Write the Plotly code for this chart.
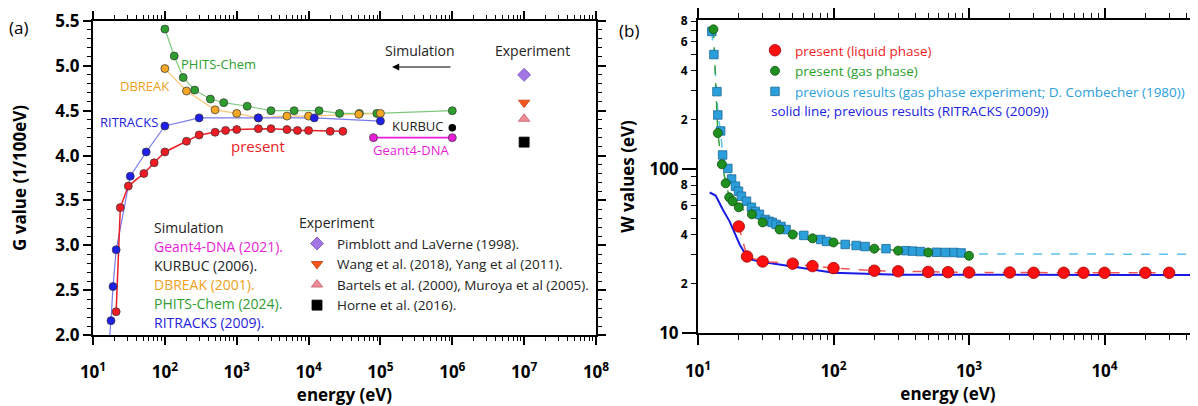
import plotly.graph_objects as go

# ---------------- Panel (a): G value vs energy ----------------
present_e = [21, 24, 31, 51, 71, 100, 200, 300, 500, 700, 1000, 2000, 3000, 5000, 7000, 10000, 20000, 30000]
present_g = [2.26, 3.42, 3.66, 3.80, 3.92, 4.04, 4.16, 4.23, 4.26, 4.28, 4.29, 4.30, 4.30, 4.29, 4.28, 4.28, 4.27, 4.27]

ritracks_e = [17.8, 19, 21, 33, 55, 100, 300, 2000, 12000, 100000]
ritracks_g = [2.16, 2.54, 2.95, 3.77, 4.04, 4.33, 4.42, 4.42, 4.42, 4.385]
ritracks_line_e = [16.5] + ritracks_e
ritracks_line_g = [1.85] + ritracks_g

dbreak_e = [100, 200, 500, 1000, 2000, 5000, 10000, 50000, 100000]
dbreak_g = [4.97, 4.72, 4.51, 4.47, 4.42, 4.44, 4.44, 4.46, 4.47]

phits_e = [100, 135, 180, 260, 430, 660, 1400, 3000, 6300, 14000, 27000, 51000, 89000, 1000000]
phits_g = [5.41, 5.11, 4.87, 4.73, 4.63, 4.59, 4.55, 4.50, 4.50, 4.50, 4.47, 4.47, 4.47, 4.50]

geant_e = [80000, 1000000]
geant_g = [4.20, 4.20]

kurbuc_e = [1000000]
kurbuc_g = [4.31]

exp_e = 1e7
exp_names = ["Pimblott and LaVerne (1998).", "Wang et al. (2018), Yang et al (2011).",
             "Bartels et al. (2000), Muroya et al (2005).", "Horne et al. (2016)."]
exp_g = [4.90, 4.59, 4.41, 4.15]

a_xticks = [10, 100, 1e3, 1e4, 1e5, 1e6, 1e7, 1e8]
a_xticktext = ["10<sup>%d</sup>" % i for i in range(1, 9)]

# ---------------- Panel (b): W values vs energy ----------------
liquid_e = [20, 23, 30, 50, 70, 100, 200, 300, 500, 700, 1000, 2000, 3000, 5000, 7000, 10000, 20000, 30000]
liquid_w = [44.7, 29.3, 27.3, 26.5, 25.6, 24.9, 24.0, 23.8, 23.6, 23.5, 23.4, 23.4, 23.3, 23.3, 23.3, 23.3, 23.3, 23.3]

gas_e = [13, 14, 15, 16, 17, 18, 20, 25, 30, 40, 50, 70, 100, 200, 300, 500, 1000]
gas_w = [713, 166, 107, 82, 67.3, 63.7, 58.5, 53, 47.3, 42.8, 39.9, 37.8, 35.7, 32.7, 31.8, 31.0, 29.6]

comb_e = [12.65, 13.1, 13.8, 14.0, 14.7, 15.2, 16.6, 17.7, 18.9, 19.9, 20.9, 22.8, 24.8, 26.5, 28.4,
          31.4, 33.5, 35.3, 37.7, 41, 44.7, 60.4, 80.4, 89, 122, 147, 171, 244, 341, 384, 438, 574,
          668, 776, 875]
comb_w = [692, 500, 297, 214, 171, 122, 101, 87, 78.7, 73.3, 68.3, 63.7, 58.5, 55.2, 53,
          49.3, 48, 47.3, 46, 44.7, 42.8, 39.4, 37.2, 36.2, 34.7, 34.2, 33.7, 32.7, 31.8, 31.6, 31.4, 31.1,
          31.0, 31.0, 30.8]
comb_ext_e = [875, 1000, 60000]
comb_ext_w = [30.8, 30.4, 30.2]

rit_w_e = [12.2, 13.5, 15.2, 17.1, 18.6, 20.3, 22, 25.2, 31.8, 50, 100, 300, 1000, 10000, 60000]
rit_w_w = [72, 69, 56.9, 48, 41, 34.7, 31, 28, 26.9, 25.4, 23.3, 22.7, 22.6, 22.6, 22.6]

b_xticks = [10, 100, 1e3, 1e4]
b_xticktext = ["10<sup>%d</sup>" % i for i in range(1, 5)]
b_ymajor = [10, 100]
b_ymajor_text = ["10", "100"]
b_yminor = [20, 40, 60, 80, 200, 400, 600, 800]
b_yminor_text = ["2", "4", "6", "8", "2", "4", "6", "8"]

FONT = "Open Sans"
# the page body adds an 8px margin, so the figure is drawn 8px in from the window corner
OFF = 8
W, H = 1198 - OFF, 406 - OFF


def px(x):
    return (x - OFF) / W


def py(y):
    return 1 - (y - OFF) / H


RED = "#ee1c24"
MAG = "#e81ed8"
LBLUE = "#2b9fdb"

fig = go.Figure()

# --- panel (a) traces ---
def a_line(x, y, color, width=1.2):
    fig.add_trace(go.Scatter(x=x, y=y, mode="lines", line=dict(color=color, width=width),
                             showlegend=False, xaxis="x", yaxis="y", hoverinfo="skip"))


def a_mark(x, y, color, size=8):
    fig.add_trace(go.Scatter(x=x, y=y, mode="markers",
                             marker=dict(color=color, size=size, line=dict(color="#333333", width=0.7)),
                             showlegend=False, xaxis="x", yaxis="y"))


a_line(phits_e, phits_g, "#7fc97f")
a_line(dbreak_e, dbreak_g, "#f8c878")
a_line(ritracks_line_e, ritracks_line_g, "#7a7af0")
a_line(present_e, present_g, RED, 1.5)
a_line(geant_e, geant_g, MAG, 1.8)
a_mark(phits_e, phits_g, "#2e9e2e")
a_mark(dbreak_e, dbreak_g, "#f5a824")
a_mark(ritracks_e, ritracks_g, "#1f1fe8")
a_mark(present_e, present_g, RED)
a_mark(geant_e, geant_g, MAG)
fig.add_trace(go.Scatter(x=kurbuc_e, y=kurbuc_g, mode="markers",
                         marker=dict(color="black", size=7.5), showlegend=False))

exp_sym = ["diamond", "triangle-down", "triangle-up", "square"]
exp_col = ["#a275e3", "#f2561d", "#f08a94", "#000000"]
exp_line = ["#7a50c0", "#c04010", "#c06070", "#000000"]
for n, g, s, c, lc in zip(exp_names, exp_g, exp_sym, exp_col, exp_line):
    fig.add_trace(go.Scatter(x=[exp_e], y=[g], mode="markers", name=n, legend="legend",
                             marker=dict(symbol=s, color=c, size=10, line=dict(color=lc, width=0.8)),
                             xaxis="x", yaxis="y"))

# --- panel (b) traces ---
def b_line(x, y, color, dash="dash", width=1.5):
    fig.add_trace(go.Scatter(x=x, y=y, mode="lines", line=dict(color=color, width=width, dash=dash),
                             showlegend=False, xaxis="x2", yaxis="y2", hoverinfo="skip"))


b_line(rit_w_e, rit_w_w, "#1a1ae6", "solid", 2)
b_line(comb_e, comb_w, "#5cc2ee")
b_line(comb_ext_e, comb_ext_w, "#5cc2ee")
b_line(gas_e, gas_w, "#3aa03a")
b_line(liquid_e, liquid_w, "#f05555")

fig.add_trace(go.Scatter(x=comb_e, y=comb_w, mode="markers", legend="legend2",
                         name="<span style='color:#2b9fdb'>previous results (gas phase experiment; D. Combecher (1980))</span>",
                         marker=dict(symbol="square", color=LBLUE, size=8.5, line=dict(color="#1a6a9a", width=0.8)),
                         xaxis="x2", yaxis="y2"))
fig.add_trace(go.Scatter(x=gas_e, y=gas_w, mode="markers", legend="legend2",
                         name="<span style='color:#2ca02c'>present (gas phase)</span>",
                         marker=dict(color="#1f8f1f", size=9, line=dict(color="#0f4f0f", width=0.8)),
                         xaxis="x2", yaxis="y2"))
fig.add_trace(go.Scatter(x=liquid_e, y=liquid_w, mode="markers", legend="legend2",
                         name="<span style='color:#ee1c24'>present (liquid phase)</span>",
                         marker=dict(color="#ff1010", size=11.5, line=dict(color="#a00000", width=0.8)),
                         xaxis="x2", yaxis="y2"))
# overlay axis for long major ticks
fig.add_trace(go.Scatter(x=[], y=[], xaxis="x2", yaxis="y3", showlegend=False))

tickfont_big = dict(family=FONT, size=17, color="black", weight="bold")
axis_common = dict(showline=True, linecolor="black", linewidth=2, ticks="outside",
                   tickcolor="black", tickwidth=1.5, showgrid=False, zeroline=False,
                   automargin=False, mirror="ticks")

fig.update_layout(
    width=W, height=H, margin=dict(l=0, r=0, t=0, b=0),
    paper_bgcolor="white", plot_bgcolor="white",
    font=dict(family=FONT, color="black"),
    xaxis=dict(**axis_common, type="log", range=[1, 8], domain=[px(93), px(596)],
               tickvals=a_xticks, ticktext=a_xticktext, ticklen=8, tickfont=tickfont_big,
               ticklabelstandoff=13,
               minor=dict(ticks="outside", ticklen=4, dtick="D1", tickcolor="black", tickwidth=1),
               title=dict(text="energy (eV)", font=dict(family=FONT, size=17, weight="bold"), standoff=8),
               anchor="y"),
    yaxis=dict(**axis_common, range=[2.0, 5.5], domain=[py(335), py(21)], dtick=0.5, tick0=2,
               ticklen=8, tickformat=".1f", tickfont=tickfont_big, ticklabelstandoff=0,
               minor=dict(ticks="outside", ticklen=4, dtick=0.1, tickcolor="black", tickwidth=1),
               title=dict(text="G value (1/100eV)", font=dict(family=FONT, size=17, weight="bold"), standoff=29),
               anchor="x"),
    xaxis2=dict(**axis_common, type="log", range=[1, 4.69], domain=[px(698), 1.0],
                tickvals=b_xticks, ticktext=b_xticktext, ticklen=10, tickfont=tickfont_big,
                ticklabelstandoff=12,
                minor=dict(ticks="outside", ticklen=5, dtick="D1", tickcolor="black", tickwidth=1),
                title=dict(text="energy (eV)", font=dict(family=FONT, size=17, weight="bold"), standoff=6),
                anchor="y2"),
    yaxis2=dict(showline=True, linecolor="black", linewidth=2, ticks="outside", tickcolor="black",
                tickwidth=1.2, showgrid=False, zeroline=False, automargin=False,
                type="log", range=[1, 2.91], domain=[py(333), py(20)],
                tickvals=b_yminor, ticktext=b_yminor_text, ticklen=5,
                tickfont=dict(family=FONT, size=12, color="black", weight="bold"), ticklabelstandoff=1,
                minor=dict(ticks="outside", ticklen=5, tickvals=[30, 50, 70, 90, 300, 500, 700],
                           tickcolor="black", tickwidth=1),
                title=dict(text="W values (eV)", font=dict(family=FONT, size=17, weight="bold"), standoff=42),
                anchor="x2"),
    yaxis3=dict(overlaying="y2", anchor="x2", side="left", type="log", range=[1, 2.91],
                showline=False, ticks="outside", ticklen=15, tickcolor="black", tickwidth=1.5,
                tickvals=b_ymajor, ticktext=b_ymajor_text, tickfont=tickfont_big,
                ticklabelstandoff=0, showgrid=False, zeroline=False, automargin=False),
    legend=dict(x=px(297), y=py(210), xanchor="left", yanchor="top", bgcolor="rgba(0,0,0,0)",
                font=dict(family=FONT, size=13.5, color="#222"), tracegroupgap=0,
                title=dict(text="Experiment", font=dict(family=FONT, size=14, color="#222")),
                itemwidth=30),
    legend2=dict(x=px(755), y=py(35), xanchor="left", yanchor="top", bgcolor="rgba(0,0,0,0)",
                 font=dict(family=FONT, size=13.5), traceorder="reversed", itemwidth=30),
)

ann = []


def text(x, y, s, color="black", size=14, xanchor="center"):
    ann.append(dict(x=px(x), y=py(y), xref="paper", yref="paper", text=s, showarrow=False,
                    font=dict(family=FONT, size=size, color=color), xanchor=xanchor, yanchor="middle"))


text(18, 27, "(a)", size=17)
text(629, 30, "(b)", size=17)
text(218, 64, "PHITS-Chem", "#2e9e2e", 13)
text(144, 86, "DBREAK", "#f0a020", 13)
text(129, 122, "RITRACKS", "#2323e0", 13)
text(258, 146, "present", "#e81c24", 15)
text(420, 51, "Simulation", "#222", 14)
text(532, 50, "Experiment", "#222", 14)
text(446, 126, "KURBUC", "#222", 13, "right")
text(411, 150, "Geant4-DNA", MAG, 13)
sim_list = [("Simulation", "#222"), ("Geant4-DNA (2021).", MAG), ("KURBUC (2006).", "#222"),
            ("DBREAK (2001).", "#f0a020"), ("PHITS-Chem (2024).", "#2e9e2e"), ("RITRACKS (2009).", "#2323e0")]
for i, (s, c) in enumerate(sim_list):
    text(152, 227 + i * 19, s, c, 14, "left")
text(769, 111, "solid line; previous results (RITRACKS (2009))", "#2020e0", 13.5, "left")

# arrow "Simulation" pointing left
ann.append(dict(x=px(392), y=py(67), xref="paper", yref="paper", ax=60, ay=0,
                showarrow=True, arrowhead=2, arrowsize=1.2,
                arrowwidth=1.2, arrowcolor="black", text=""))

fig.update_layout(annotations=ann)
fig.write_html("out.html")
